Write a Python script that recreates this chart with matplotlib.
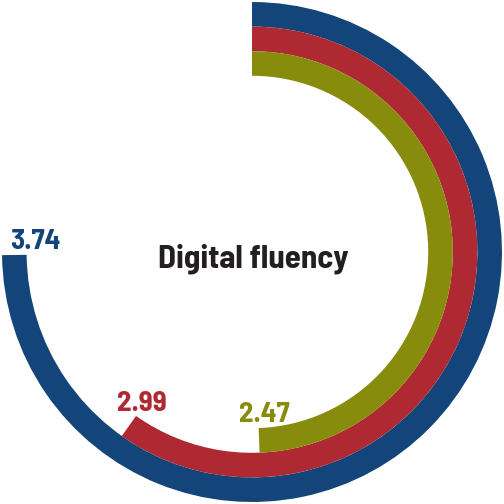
import numpy as np
import matplotlib
matplotlib.use("Agg")
import matplotlib.pyplot as plt

# values out of a 5-point scale, outer ring first
labels = ["3.74", "2.99", "2.47"]
values = [3.74, 2.99, 2.47]
scale_max = 5.0
colors = ["#13457a", "#ae2931", "#878c0c"]
title = "Digital fluency"

# label baseline offsets from the arc end (points)
label_offsets = [(21, 6), (13, 15), (5, 18)]

plt.rcParams["font.family"] = ["Barlow Semi Condensed", "DejaVu Sans"]

fig = plt.figure(figsize=(7, 7), dpi=72)
ax = fig.add_axes([0.0, 0.0, 1.0, 1.0], projection="polar")
ax.set_theta_zero_location("N")
ax.set_theta_direction(-1)

outer = 249
band = 24.5
for i, (v, c) in enumerate(zip(values, colors)):
    theta = 2 * np.pi * v / scale_max
    bottom = outer - band * (i + 1)
    ax.bar(0, band, width=theta, bottom=bottom, align="edge",
           color=c, edgecolor="none")
    ax.annotate(labels[i], xy=(theta, bottom + band / 2),
                xytext=label_offsets[i], textcoords="offset points",
                ha="center", va="baseline", fontsize=29,
                fontweight="bold", color=c)

ax.text(0.502, 0.469, title, transform=ax.transAxes, ha="center",
        va="baseline", fontsize=33, fontweight="bold", color="#231f20")

ax.set_ylim(0, 251)
ax.axis("off")

fig.savefig("out.png", dpi=72)
